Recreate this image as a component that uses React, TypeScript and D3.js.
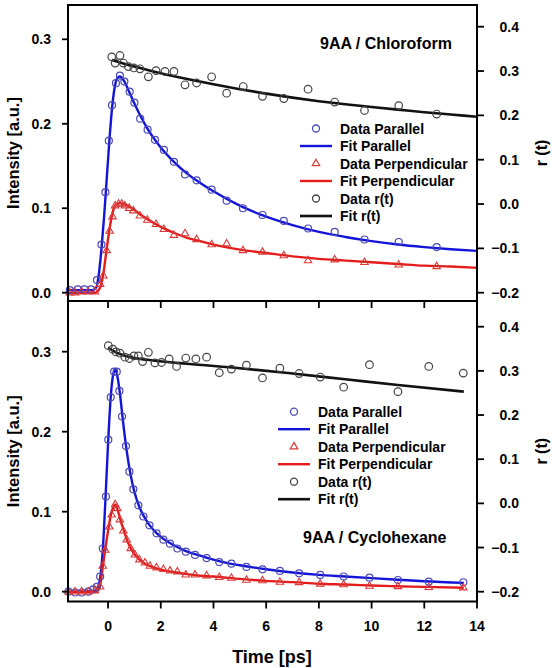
import React from "react";
import * as d3 from "d3";

// ---- 9AA / Chloroform ----
const chlParT = [-1.45,-1.15,-0.9,-0.65,-0.42,-0.25,-0.1,0.03,0.15,0.3,0.45,0.62,0.82,1.0,1.22,1.5,1.78,2.12,2.5,2.92,3.36,3.93,4.5,5.12,5.86,6.67,7.59,8.6,9.73,11.03,12.47];
const chlParI = [0.003,0.004,0.004,0.004,0.015,0.057,0.119,0.18,0.222,0.248,0.257,0.25,0.238,0.225,0.206,0.193,0.181,0.169,0.155,0.14,0.133,0.122,0.109,0.1,0.092,0.085,0.076,0.072,0.063,0.06,0.054];
const chlPerT = [-1.45,-1.25,-1.0,-0.75,-0.5,-0.3,-0.18,-0.05,0.06,0.17,0.27,0.4,0.52,0.64,0.8,0.96,1.21,1.49,1.82,2.12,2.5,2.92,3.36,3.93,4.5,5.12,5.86,6.67,7.59,8.6,9.73,11.03,12.47];
const chlPerI = [0,0,0.001,0.001,0.001,0.01,0.02,0.05,0.073,0.09,0.103,0.105,0.105,0.103,0.1,0.097,0.091,0.086,0.081,0.075,0.068,0.07,0.063,0.057,0.058,0.05,0.048,0.044,0.038,0.039,0.036,0.033,0.031];
const chlRT = [0.14,0.27,0.45,0.58,0.77,0.98,1.21,1.53,1.82,2.16,2.5,2.92,3.36,3.93,4.5,5.13,5.86,6.67,7.59,8.6,9.73,11.03,12.47];
const chlR = [0.332,0.318,0.335,0.318,0.31,0.307,0.305,0.287,0.301,0.299,0.299,0.269,0.273,0.287,0.25,0.265,0.243,0.238,0.259,0.23,0.211,0.222,0.203];
const chlFitParT = [-1.5,-0.6,-0.45,-0.35,-0.25,-0.15,-0.05,0.05,0.15,0.25,0.35,0.45,0.6,0.8,1.0,1.25,1.5,2,2.5,3,3.5,4,5,6,7,8,9,10,11,12,13,14];
const chlFitParI = [0.003,0.003,0.006,0.022,0.052,0.09,0.135,0.18,0.218,0.243,0.254,0.256,0.251,0.238,0.224,0.208,0.194,0.172,0.155,0.141,0.13,0.12,0.103,0.09,0.08,0.072,0.066,0.061,0.057,0.054,0.0515,0.0495];
const chlFitPerT = [-1.5,-0.5,-0.38,-0.28,-0.18,-0.08,0.02,0.12,0.22,0.32,0.45,0.6,0.8,1,1.25,1.5,2,2.5,3,3.5,4,5,6,7,8,9,10,11,12,13,14];
const chlFitPerI = [0,0,0.002,0.008,0.022,0.045,0.068,0.087,0.1,0.105,0.106,0.105,0.102,0.098,0.092,0.087,0.078,0.071,0.065,0.061,0.057,0.051,0.047,0.043,0.04,0.038,0.036,0.034,0.032,0.031,0.0295];
const chlFitRT = [0.14,1,2,3,4,5,6,7,8,9,10,11,12,13,14];
const chlFitR = [0.325,0.31,0.295,0.282,0.27,0.259,0.249,0.24,0.232,0.225,0.219,0.213,0.207,0.202,0.197];

// ---- 9AA / Cyclohexane ----
const cyParT = [-1.5,-1.25,-1.0,-0.75,-0.56,-0.43,-0.3,-0.2,-0.08,0.01,0.1,0.23,0.33,0.43,0.53,0.68,0.81,0.96,1.15,1.34,1.57,1.84,2.1,2.35,2.63,2.95,3.3,3.74,4.22,4.68,5.25,5.86,6.52,7.25,8.05,8.94,9.92,11.0,12.17,13.48];
const cyParI = [0,-0.001,-0.001,0,0.003,0.006,0.019,0.054,0.119,0.19,0.243,0.275,0.275,0.251,0.219,0.182,0.15,0.128,0.108,0.094,0.083,0.073,0.065,0.06,0.054,0.05,0.046,0.042,0.037,0.035,0.031,0.028,0.026,0.023,0.021,0.019,0.0175,0.0146,0.0125,0.0118];
const cyPerT = [-1.5,-1.25,-1.0,-0.75,-0.5,-0.3,-0.2,-0.11,0.05,0.14,0.27,0.35,0.45,0.58,0.71,0.86,1.02,1.19,1.4,1.59,1.84,2.1,2.35,2.63,2.95,3.3,3.74,4.22,4.68,5.25,5.86,6.52,7.25,8.05,8.94,9.92,11.0,12.17,13.48];
const cyPerI = [0,0,0,0,0.001,0.006,0.032,0.052,0.081,0.096,0.109,0.104,0.09,0.076,0.065,0.054,0.046,0.04,0.036,0.032,0.03,0.028,0.026,0.025,0.021,0.021,0.02,0.018,0.017,0.0145,0.0138,0.012,0.0115,0.0096,0.0088,0.007,0.0065,0.0055,0.005];
const cyRT = [0.01,0.18,0.3,0.45,0.64,0.81,0.98,1.15,1.31,1.53,1.78,2.03,2.32,2.6,2.95,3.33,3.74,4.22,4.68,5.25,5.86,6.52,7.25,8.05,8.94,9.92,11.0,12.17,13.48];
const cyR = [0.357,0.349,0.343,0.34,0.331,0.328,0.334,0.334,0.321,0.342,0.318,0.319,0.327,0.31,0.329,0.327,0.331,0.296,0.304,0.313,0.284,0.306,0.294,0.286,0.263,0.314,0.253,0.31,0.295];
const cyFitParT = [-1.5,-0.5,-0.38,-0.28,-0.2,-0.1,0,0.1,0.2,0.28,0.35,0.45,0.55,0.7,0.85,1.0,1.2,1.4,1.6,1.85,2.1,2.5,3,3.5,4,4.5,5,6,7,8,9,10,11,12,13.5];
const cyFitParI = [0,0.001,0.006,0.022,0.052,0.115,0.185,0.243,0.272,0.278,0.27,0.248,0.218,0.178,0.147,0.125,0.105,0.092,0.082,0.073,0.066,0.058,0.05,0.045,0.04,0.036,0.033,0.028,0.024,0.021,0.019,0.017,0.015,0.013,0.011];
const cyFitPerT = [-1.5,-0.45,-0.32,-0.22,-0.12,0,0.1,0.2,0.27,0.35,0.45,0.6,0.75,0.9,1.05,1.2,1.4,1.6,1.85,2.2,2.6,3,3.5,4,5,6,7,8,9,10,11,12,13.5];
const cyFitPerI = [0,0,0.005,0.026,0.05,0.076,0.095,0.106,0.109,0.104,0.092,0.076,0.062,0.052,0.045,0.04,0.035,0.032,0.029,0.026,0.024,0.022,0.02,0.019,0.016,0.0135,0.012,0.01,0.009,0.0078,0.0068,0.006,0.005];
const cyFitRT = [0,0.3,0.7,1.5,3,5,7,9,11,13.5];
const cyFitR = [0.353,0.342,0.333,0.325,0.316,0.306,0.294,0.281,0.268,0.253];

// ---- axes ----
const xTicks = [0, 2, 4, 6, 8, 10, 12, 14];
const intensityTicks = [0, 0.1, 0.2, 0.3];
const rTicks = [-0.2, -0.1, 0, 0.1, 0.2, 0.3, 0.4];
const legendLabels = ["Data Parallel", "Fit Parallel", "Data Perpendicular", "Fit Perpendicular", "Data r(t)", "Fit r(t)"];

const FONT = "'Liberation Sans', Arial, sans-serif";
const BLUE_LINE = "#1414d8";
const BLUE_MARK = "#4a4ab8";
const RED_LINE = "#e41c1c";
const RED_MARK = "#d83a3a";
const BLACK_LINE = "#111";
const BLACK_MARK = "#444";

const X_LEFT = 68;
const X_RIGHT = 477;
const x = d3.scaleLinear().domain([-1.52, 14]).range([X_LEFT, X_RIGHT]);

const zip = (t: number[], v: number[]) => t.map((tt, i) => [tt, v[i]] as [number, number]);
const triPath = d3.symbol(d3.symbolTriangle, 24)() as string;
const fmt = d3.format(".1f");

type PanelProps = {
  top: number;
  bottom: number;
  yI: d3.ScaleLinear<number, number>;
  yR: d3.ScaleLinear<number, number>;
  par: [number, number][];
  per: [number, number][];
  r: [number, number][];
  fitPar: [number, number][];
  fitPer: [number, number][];
  fitR: [number, number][];
  title: string;
  titleX: number;
  titleY: number;
  legendX: number;
  legendY: number;
  showXLabels: boolean;
  drawTop: boolean;
};

function Panel(p: PanelProps) {
  const lineI = d3.line<[number, number]>().x(d => x(d[0])).y(d => p.yI(d[1])).curve(d3.curveMonotoneX);
  const lineR = d3.line<[number, number]>().x(d => x(d[0])).y(d => p.yR(d[1])).curve(d3.curveMonotoneX);
  const axisW = 2;
  const step = 17.5;
  return (
    <g>
      {/* fits */}
      <path d={lineR(p.fitR) as string} fill="none" stroke={BLACK_LINE} strokeWidth={2.6} />
      <path d={lineI(p.fitPar) as string} fill="none" stroke={BLUE_LINE} strokeWidth={2.4} />
      <path d={lineI(p.fitPer) as string} fill="none" stroke={RED_LINE} strokeWidth={2.4} />
      {/* data */}
      {p.r.map((d, i) => (
        <circle key={"r" + i} cx={x(d[0])} cy={p.yR(d[1])} r={3.8} fill="none" stroke={BLACK_MARK} strokeWidth={1.2} />
      ))}
      {p.par.map((d, i) => (
        <circle key={"p" + i} cx={x(d[0])} cy={p.yI(d[1])} r={3.5} fill="none" stroke={BLUE_MARK} strokeWidth={1.2} />
      ))}
      {p.per.map((d, i) => (
        <path key={"q" + i} d={triPath} transform={`translate(${x(d[0])},${p.yI(d[1])})`} fill="none" stroke={RED_MARK} strokeWidth={1.1} />
      ))}

      {/* frame */}
      <line x1={X_LEFT} x2={X_LEFT} y1={p.top} y2={p.bottom} stroke="#000" strokeWidth={axisW} />
      <line x1={X_RIGHT} x2={X_RIGHT} y1={p.top} y2={p.bottom} stroke="#000" strokeWidth={axisW} />
      <line x1={X_LEFT - 1} x2={X_RIGHT + 1} y1={p.bottom} y2={p.bottom} stroke="#000" strokeWidth={axisW} />
      {p.drawTop && <line x1={X_LEFT - 1} x2={X_RIGHT + 1} y1={p.top} y2={p.top} stroke="#000" strokeWidth={axisW} />}

      {/* x ticks */}
      {xTicks.map(t => (
        <g key={"x" + t}>
          <line x1={x(t)} x2={x(t)} y1={p.bottom} y2={p.bottom + 7} stroke="#000" strokeWidth={1.8} />
          {p.showXLabels && (
            <text x={x(t)} y={p.bottom + 29} textAnchor="middle" fontSize={14} fontWeight="bold" fontFamily={FONT}>{t}</text>
          )}
        </g>
      ))}
      {/* left intensity axis */}
      {intensityTicks.map(v => (
        <g key={"i" + v}>
          <line x1={X_LEFT - 6} x2={X_LEFT} y1={p.yI(v)} y2={p.yI(v)} stroke="#000" strokeWidth={1.8} />
          <text x={51} y={p.yI(v)} dy="0.36em" textAnchor="end" fontSize={14} fontWeight="bold" fontFamily={FONT}>{fmt(v)}</text>
        </g>
      ))}
      {/* right r(t) axis */}
      {rTicks.map(v => (
        <g key={"r" + v}>
          <line x1={X_RIGHT} x2={X_RIGHT + 7} y1={p.yR(v)} y2={p.yR(v)} stroke="#000" strokeWidth={1.8} />
          <text x={519} y={p.yR(v)} dy="0.36em" textAnchor="end" fontSize={14} fontWeight="bold" fontFamily={FONT}>{fmt(v).replace("-0.0", "0.0")}</text>
        </g>
      ))}

      {/* axis titles */}
      <text transform={`translate(19,${(p.top + p.bottom) / 2}) rotate(-90)`} textAnchor="middle" fontSize={16.5} fontWeight="bold" fontFamily={FONT}>Intensity [a.u.]</text>
      <text transform={`translate(547,${(p.top + p.bottom) / 2}) rotate(-90)`} textAnchor="middle" fontSize={16} fontWeight="bold" fontFamily={FONT}>r (t)</text>

      {/* panel label */}
      <text x={p.titleX} y={p.titleY} fontSize={16} fontWeight="bold" fontFamily={FONT}>{p.title}</text>

      {/* legend */}
      {legendLabels.map((lab, i) => {
        const cy = p.legendY + i * step;
        const sx = p.legendX;
        let sym: React.ReactNode = null;
        if (i === 0) sym = <circle cx={sx + 16} cy={cy} r={3.5} fill="none" stroke={BLUE_MARK} strokeWidth={1.3} />;
        if (i === 1) sym = <line x1={sx} x2={sx + 32} y1={cy} y2={cy} stroke={BLUE_LINE} strokeWidth={2.4} />;
        if (i === 2) sym = <path d={triPath} transform={`translate(${sx + 16},${cy})`} fill="none" stroke={RED_MARK} strokeWidth={1.2} />;
        if (i === 3) sym = <line x1={sx} x2={sx + 32} y1={cy} y2={cy} stroke={RED_LINE} strokeWidth={2.4} />;
        if (i === 4) sym = <circle cx={sx + 16} cy={cy} r={3.5} fill="none" stroke={BLACK_MARK} strokeWidth={1.3} />;
        if (i === 5) sym = <line x1={sx} x2={sx + 32} y1={cy} y2={cy} stroke={BLACK_LINE} strokeWidth={2.6} />;
        return (
          <g key={"l" + i}>
            {sym}
            <text x={sx + 40} y={cy} dy="0.36em" fontSize={14} fontWeight="bold" fontFamily={FONT}>{lab}</text>
          </g>
        );
      })}
    </g>
  );
}

export default function App() {
  const topI = d3.scaleLinear().domain([0, 0.3]).range([292.7, 39.3]);
  const topR = d3.scaleLinear().domain([-0.2, 0.4]).range([292.7, 26.7]);
  const botI = d3.scaleLinear().domain([0, 0.3]).range([591.7, 351.7]);
  const botR = d3.scaleLinear().domain([-0.2, 0.4]).range([591.7, 326.7]);
  return (
    <svg width={555} height={668} style={{ position: "absolute", left: 0, top: 0, background: "#fff" }}>
      <rect width={555} height={668} fill="#fff" />
      <Panel
        top={5} bottom={301} yI={topI} yR={topR}
        par={zip(chlParT, chlParI)} per={zip(chlPerT, chlPerI)} r={zip(chlRT, chlR)}
        fitPar={zip(chlFitParT, chlFitParI)} fitPer={zip(chlFitPerT, chlFitPerI)} fitR={zip(chlFitRT, chlFitR)}
        title="9AA / Chloroform" titleX={320} titleY={49}
        legendX={300} legendY={128.5} showXLabels={false} drawTop={true}
      />
      <Panel
        top={301} bottom={601.5} yI={botI} yR={botR}
        par={zip(cyParT, cyParI)} per={zip(cyPerT, cyPerI)} r={zip(cyRT, cyR)}
        fitPar={zip(cyFitParT, cyFitParI)} fitPer={zip(cyFitPerT, cyFitPerI)} fitR={zip(cyFitRT, cyFitR)}
        title="9AA / Cyclohexane" titleX={303} titleY={543}
        legendX={278} legendY={411.7} showXLabels={true} drawTop={false}
      />
      <text x={272} y={663} textAnchor="middle" fontSize={18} fontWeight="bold" fontFamily={FONT}>Time [ps]</text>
    </svg>
  );
}
